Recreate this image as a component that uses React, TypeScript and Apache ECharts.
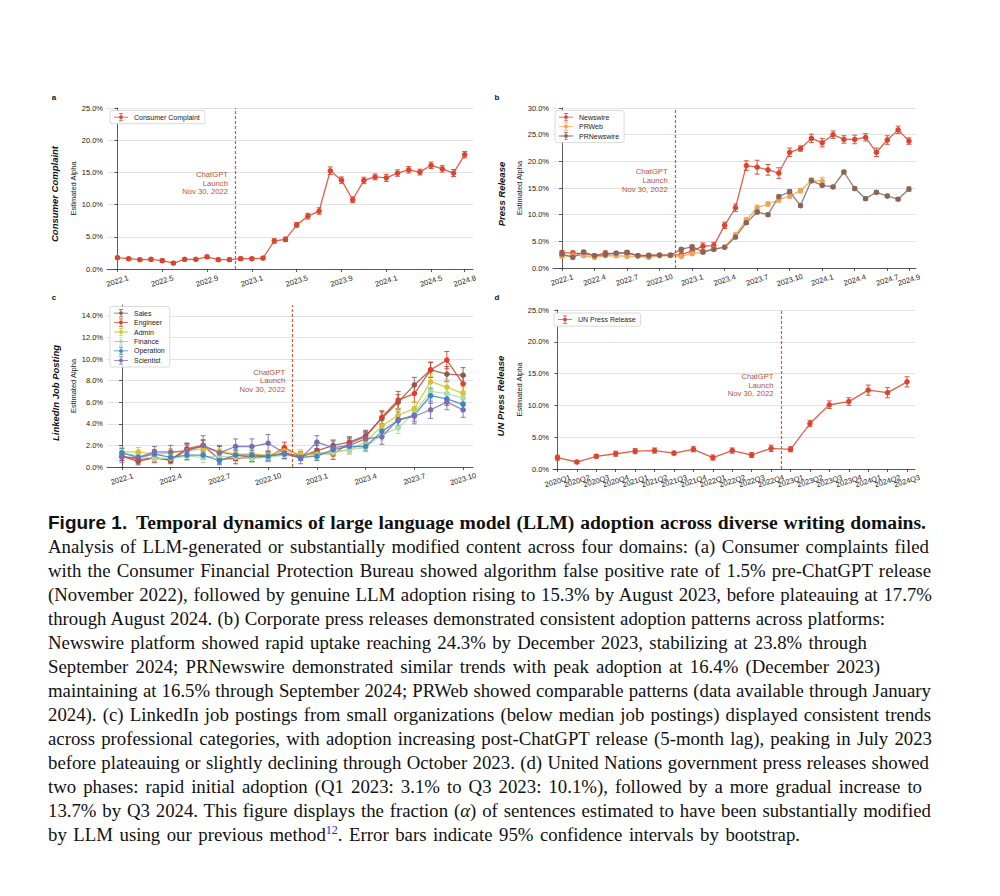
import React, { useEffect, useRef } from "react";
import * as echarts from "echarts";

// ---------- tick labels / categories ----------
const monthsA = [
  "2022.1","2022.2","2022.3","2022.4","2022.5","2022.6","2022.7","2022.8","2022.9","2022.10","2022.11","2022.12",
  "2023.1","2023.2","2023.3","2023.4","2023.5","2023.6","2023.7","2023.8","2023.9","2023.10","2023.11","2023.12",
  "2024.1","2024.2","2024.3","2024.4","2024.5","2024.6","2024.7","2024.8",
];
const monthsB = [
  "2022.1","2022.2","2022.3","2022.4","2022.5","2022.6","2022.7","2022.8","2022.9","2022.10","2022.11","2022.12",
  "2023.1","2023.2","2023.3","2023.4","2023.5","2023.6","2023.7","2023.8","2023.9","2023.10","2023.11","2023.12",
  "2024.1","2024.2","2024.3","2024.4","2024.5","2024.6","2024.7","2024.8","2024.9",
];
const monthsC = [
  "2022.1","2022.2","2022.3","2022.4","2022.5","2022.6","2022.7","2022.8","2022.9","2022.10","2022.11","2022.12",
  "2023.1","2023.2","2023.3","2023.4","2023.5","2023.6","2023.7","2023.8","2023.9","2023.10",
];
const quartersD = [
  "2020Q1","2020Q2","2020Q3","2020Q4","2021Q1","2021Q2","2021Q3","2021Q4","2022Q1","2022Q2",
  "2022Q3","2022Q4","2023Q1","2023Q2","2023Q3","2023Q4","2024Q1","2024Q2","2024Q3",
];
const ticksA = [0, 4, 8, 12, 16, 20, 24, 28, 31];
const ticksB = [0, 3, 6, 9, 12, 15, 18, 21, 24, 27, 30, 32];
const ticksC = [0, 3, 6, 9, 12, 15, 18, 21];
const ticksD = [0, 1, 2, 3, 4, 5, 6, 7, 8, 9, 10, 11, 12, 13, 14, 15, 16, 17, 18];

// ---------- (a) consumer complaints ----------
const consumerValues = [1.76,1.6,1.45,1.5,1.3,0.93,1.5,1.5,1.9,1.45,1.45,1.6,1.6,1.7,4.35,4.6,6.85,8.2,9.0,15.25,13.8,10.75,13.75,14.3,14.15,14.9,15.4,15.05,16.1,15.55,14.9,17.75];
const consumerErr = [0.2,0.2,0.2,0.25,0.25,0.2,0.25,0.2,0.25,0.25,0.25,0.25,0.2,0.25,0.35,0.35,0.35,0.45,0.5,0.6,0.5,0.45,0.5,0.45,0.55,0.5,0.5,0.45,0.5,0.5,0.55,0.5];

// ---------- (b) press releases ----------
const newswireValues = [2.9,2.8,2.7,2.3,2.8,2.7,2.9,2.3,2.4,2.4,2.4,2.5,3.2,4.1,4.2,8.0,11.3,19.2,18.9,18.4,17.8,21.7,22.4,24.3,23.5,25.0,24.1,24.1,24.5,21.7,24.0,25.9,23.8];
const newswireErr = [0.4,0.4,0.3,0.3,0.4,0.3,0.4,0.3,0.3,0.2,0.2,0.5,0.5,0.6,0.6,0.6,0.7,0.9,1.3,1.0,1.0,0.8,0.5,0.8,0.8,0.7,0.7,0.8,0.7,0.8,0.8,0.7,0.6];
const prwebValues = [2.2,2.4,2.3,2.0,2.3,2.3,2.2,2.2,2.0,2.3,2.3,2.2,2.7,3.0,3.6,3.9,6.2,9.0,11.3,12.0,12.8,13.5,14.5,16.4,16.3,null,null,null,null,null,null,null,null];
const prwebErr = [0.3,0.3,0.3,0.3,0.3,0.3,0.3,0.2,0.3,0.2,0.2,0.3,0.3,0.3,0.3,0.3,0.4,0.4,0.5,0.4,0.5,0.5,0.4,0.5,0.7,0,0,0,0,0,0,0,0];
const prnewswireValues = [2.6,2.0,3.0,2.3,2.5,2.8,2.9,2.3,2.3,2.4,2.4,3.5,4.0,3.0,3.5,3.9,5.8,8.5,10.5,10.0,13.4,14.3,11.7,16.4,15.5,15.2,18.0,14.9,13.0,14.2,13.5,12.9,14.8];
const prnewswireErr = [0.3,0.3,0.3,0.2,0.2,0.2,0.3,0.2,0.2,0.2,0.2,0.3,0.3,0.3,0.3,0.2,0.3,0.3,0.3,0.3,0.3,0.4,0.3,0.3,0.3,0.3,0.3,0.3,0.3,0.3,0.3,0.3,0.4];

// ---------- (c) LinkedIn job postings ----------
const salesValues = [1.0,0.5,0.9,0.6,1.6,1.9,1.4,1.1,0.9,1.0,1.3,1.0,1.5,2.0,2.3,2.9,4.5,6.0,7.6,9.0,8.6,8.5];
const salesErr = [0.4,0.3,0.4,0.3,0.6,0.6,0.5,0.5,0.4,0.5,0.5,0.4,0.5,0.5,0.5,0.5,0.6,0.7,0.7,0.7,0.7,0.7];
const engineerValues = [1.0,0.7,0.8,0.7,1.7,2.0,0.7,0.8,0.9,0.9,1.8,1.0,1.3,1.2,2.2,2.8,4.6,6.2,6.8,9.0,9.9,7.7];
const engineerErr = [0.4,0.3,0.4,0.3,0.5,0.5,0.4,0.5,0.4,0.4,0.5,0.4,0.4,0.5,0.5,0.5,0.6,0.8,0.8,0.7,0.8,0.7];
const adminValues = [1.4,1.4,1.2,1.3,1.5,1.7,1.5,1.2,1.2,1.1,1.5,1.2,1.2,1.4,1.6,2.3,3.8,4.8,5.4,7.9,7.4,6.8];
const adminErr = [0.4,0.4,0.4,0.4,0.5,0.5,0.5,0.4,0.4,0.4,0.4,0.4,0.4,0.4,0.4,0.4,0.5,0.6,0.6,0.7,0.7,0.6];
const financeValues = [1.3,1.0,0.8,0.8,1.0,0.9,1.0,0.9,0.8,0.9,1.1,0.9,1.1,1.3,1.6,1.8,3.0,3.6,5.0,7.0,6.8,6.4];
const financeErr = [0.4,0.3,0.3,0.3,0.4,0.5,0.4,0.4,0.4,0.4,0.4,0.3,0.4,0.4,0.4,0.4,0.5,0.5,0.6,0.7,0.6,0.6];
const operationValues = [1.3,0.9,1.2,0.9,1.1,1.1,0.6,1.1,1.1,1.0,1.2,0.9,1.0,1.6,1.9,1.9,3.3,4.3,4.8,6.6,6.3,5.8];
const operationErr = [0.4,0.3,0.4,0.3,0.4,0.4,0.4,0.4,0.4,0.4,0.4,0.3,0.4,0.4,0.4,0.4,0.5,0.5,0.6,0.7,0.6,0.6];
const scientistValues = [0.9,0.9,1.4,1.4,1.5,2.0,1.3,1.9,1.9,2.2,1.3,0.8,2.3,1.8,2.0,2.6,2.8,4.4,4.7,5.3,6.0,5.3];
const scientistErr = [0.5,0.4,0.5,0.6,0.6,0.9,0.7,0.7,0.7,0.8,0.5,0.5,0.6,0.6,0.6,0.6,0.7,0.7,0.7,0.8,0.7,0.7];

// ---------- (d) UN press releases ----------
const unValues = [1.78,1.1,2.0,2.4,2.8,2.9,2.5,3.1,1.8,2.9,2.2,3.25,3.1,7.15,10.1,10.6,12.4,12.0,13.7];
const unErr = [0.4,0.2,0.3,0.4,0.4,0.4,0.3,0.4,0.4,0.4,0.4,0.5,0.4,0.5,0.6,0.6,0.8,0.8,0.8];

const FONT = '"Liberation Sans", Arial, Helvetica, sans-serif';
const ANNOT = "#b0563c";
const LAUNCH_LINE = "#d05a3e";
const LEGEND_ICON =
  "path://M0,7.3H24V8.7H0Z M11.3,1H12.7V15H11.3Z M8.5,1H15.5V2.2H8.5Z M8.5,13.8H15.5V15H8.5Z M15.3,8A3.3,3.3,0,1,1,8.7,8A3.3,3.3,0,1,1,15.3,8Z";
const LABEL_ROT = (17 * Math.PI) / 180;

type SDef = { name: string; color: string; values: (number | null)[]; errs: number[] };

function errRender(color: string) {
  return (params: any, api: any) => {
    const x = api.value(0);
    const p1 = api.coord([x, api.value(1)]);
    const p2 = api.coord([x, api.value(2)]);
    const cap = 2.5;
    const style = { stroke: color, lineWidth: 1, opacity: 0.9 };
    return {
      type: "group",
      children: [
        { type: "line", shape: { x1: p1[0], y1: p1[1], x2: p2[0], y2: p2[1] }, style },
        { type: "line", shape: { x1: p1[0] - cap, y1: p1[1], x2: p1[0] + cap, y2: p1[1] }, style },
        { type: "line", shape: { x1: p2[0] - cap, y1: p2[1], x2: p2[0] + cap, y2: p2[1] }, style },
      ],
    };
  };
}

function buildPanel(cfg: {
  gi: number;
  rect: { left: number; top: number; width: number; height: number };
  labels: string[];
  ticks: number[];
  xMin: number;
  xMax: number;
  yMax: number;
  yInterval: number;
  series: SDef[];
  launchX: number;
  launchY: number;
  legendPos: { left: number; top: number };
}) {
  const { gi } = cfg;
  const grid = { ...cfg.rect, containLabel: false };
  const axisLineStyle = { color: "#333", width: 0.8 };
  const xAxis = {
    gridIndex: gi,
    type: "value",
    min: cfg.xMin,
    max: cfg.xMax,
    axisLine: { show: true, onZero: false, lineStyle: axisLineStyle },
    axisTick: { show: true, customValues: cfg.ticks, length: 3, lineStyle: axisLineStyle },
    axisLabel: { show: false },
    splitLine: { show: false },
  };
  const exact = cfg.yMax % cfg.yInterval === 0;
  const yAxis = {
    gridIndex: gi,
    type: "value",
    min: 0,
    max: cfg.yMax,
    interval: cfg.yInterval,
    name: "Estimated Alpha",
    nameLocation: "middle",
    nameGap: 25,
    nameTextStyle: { fontSize: 7.5, color: "#222", fontFamily: FONT },
    axisLine: { show: true, lineStyle: axisLineStyle },
    axisTick: { show: true, length: 3, lineStyle: axisLineStyle },
    axisLabel: {
      fontSize: 7.5,
      color: "#1a1a1a",
      margin: 4,
      fontFamily: FONT,
      showMaxLabel: exact,
      formatter: (v: number) => v.toFixed(1) + "%",
    },
    splitLine: { show: true, showMaxLine: exact, lineStyle: { color: "#dcdcdc", width: 0.8 } },
  };
  const series: any[] = [];
  // x tick labels, placed through the x scale (rotated, centred under each tick)
  series.push({
    type: "custom",
    name: "xlabels" + gi,
    xAxisIndex: gi,
    yAxisIndex: gi,
    silent: true,
    clip: false,
    z: 1,
    encode: { x: 0, y: 1 },
    data: cfg.ticks.map((t) => [t, 0]),
    renderItem: (params: any, api: any) => {
      const p = api.coord([api.value(0), 0]);
      return {
        type: "text",
        x: p[0],
        y: p[1] + 12,
        rotation: LABEL_ROT,
        style: {
          text: cfg.labels[cfg.ticks[params.dataIndex]],
          fontSize: 7.5,
          fontFamily: FONT,
          fill: "#1a1a1a",
          align: "center",
          verticalAlign: "middle",
        },
      };
    },
  });
  cfg.series.forEach((s, k) => {
    const pts: any[] = [];
    const errs: any[] = [];
    s.values.forEach((v, i) => {
      if (v === null) return;
      pts.push([i, v]);
      errs.push([i, v - s.errs[i], v + s.errs[i]]);
    });
    series.push({
      type: "custom",
      name: s.name + " CI",
      xAxisIndex: gi,
      yAxisIndex: gi,
      silent: true,
      z: 2,
      renderItem: errRender(s.color),
      encode: { x: 0, y: [1, 2] },
      data: errs,
    });
    const line: any = {
      type: "line",
      name: s.name,
      xAxisIndex: gi,
      yAxisIndex: gi,
      data: pts,
      symbol: "circle",
      symbolSize: 5.5,
      showSymbol: true,
      lineStyle: { color: s.color, width: 1.3, opacity: 0.85 },
      itemStyle: { color: s.color },
      emphasis: { disabled: true },
      z: 3,
    };
    if (k === 0) {
      line.markLine = {
        silent: true,
        symbol: "none",
        label: { show: false },
        itemStyle: { color: LAUNCH_LINE },
        lineStyle: { type: [3, 2], color: LAUNCH_LINE, width: 1.2, opacity: 1 },
        data: [{ xAxis: cfg.launchX, lineStyle: { type: [3, 2], color: LAUNCH_LINE, width: 1.2 } }],
      };
      line.markPoint = {
        silent: true,
        symbol: "circle",
        symbolSize: 1,
        itemStyle: { color: "rgba(0,0,0,0)" },
        label: {
          show: true,
          position: "left",
          distance: 7,
          formatter: "ChatGPT\nLaunch\nNov 30, 2022",
          align: "right",
          color: ANNOT,
          fontSize: 7.7,
          lineHeight: 8.6,
          fontFamily: FONT,
        },
        data: [{ coord: [cfg.launchX, cfg.launchY] }],
      };
    }
    series.push(line);
  });
  const legend = {
    data: cfg.series.map((s) => ({ name: s.name, icon: LEGEND_ICON })),
    left: cfg.legendPos.left,
    top: cfg.legendPos.top,
    orient: "vertical",
    itemWidth: 14,
    itemHeight: 9,
    itemGap: 1.3,
    padding: [2.5, 5, 2.5, 4],
    borderColor: "#d0d0d0",
    borderWidth: 0.8,
    borderRadius: 2,
    backgroundColor: "#fff",
    selectedMode: false,
    textStyle: { fontSize: 7, color: "#222", fontFamily: FONT, padding: [0, 0, 0, 1] },
  };
  return { grid, xAxis, yAxis, series, legend };
}

function sideTitle(text: string, x: number, y: number) {
  return {
    type: "text",
    x,
    y,
    rotation: Math.PI / 2,
    style: {
      text,
      fontSize: 9.5,
      fontWeight: "bold",
      fontStyle: "italic",
      fontFamily: FONT,
      fill: "#111",
      align: "center",
      verticalAlign: "middle",
    },
  };
}
function letter(text: string, x: number, y: number) {
  return {
    type: "text",
    x,
    y,
    style: { text, fontSize: 8, fontWeight: "bold", fontFamily: FONT, fill: "#111", align: "center", verticalAlign: "middle" },
  };
}

const RED = "#d9452e";

function Chart() {
  const ref = useRef<HTMLDivElement>(null);
  useEffect(() => {
    if (!ref.current) return;
    const chart = echarts.init(ref.current, undefined, { renderer: "svg" });
    const panels = [
      buildPanel({
        gi: 0,
        rect: { left: 107, top: 108, width: 366, height: 161 },
        labels: monthsA,
        ticks: ticksA,
        xMin: -0.93,
        xMax: 31.74,
        yMax: 25,
        yInterval: 5,
        series: [{ name: "Consumer Complaint", color: RED, values: consumerValues, errs: consumerErr }],
        launchX: 10.54,
        launchY: 13.3,
        legendPos: { left: 110, top: 110.5 },
      }),
      buildPanel({
        gi: 1,
        rect: { left: 553, top: 108, width: 363, height: 160 },
        labels: monthsB,
        ticks: ticksB,
        xMin: -0.83,
        xMax: 32.65,
        yMax: 30,
        yInterval: 5,
        series: [
          { name: "Newswire", color: RED, values: newswireValues, errs: newswireErr },
          { name: "PRWeb", color: "#f3a158", values: prwebValues, errs: prwebErr },
          { name: "PRNewswire", color: "#86655a", values: prnewswireValues, errs: prnewswireErr },
        ],
        launchX: 10.44,
        launchY: 16.4,
        legendPos: { left: 555, top: 110.5 },
      }),
      buildPanel({
        gi: 2,
        rect: { left: 107, top: 305, width: 366, height: 162 },
        labels: monthsC,
        ticks: ticksC,
        xMin: -0.92,
        xMax: 21.61,
        yMax: 15,
        yInterval: 2,
        series: [
          { name: "Sales", color: "#8c5a4c", values: salesValues, errs: salesErr },
          { name: "Engineer", color: "#dc3f2a", values: engineerValues, errs: engineerErr },
          { name: "Admin", color: "#d6c42c", values: adminValues, errs: adminErr },
          { name: "Finance", color: "#a9dca4", values: financeValues, errs: financeErr },
          { name: "Operation", color: "#3a86c2", values: operationValues, errs: operationErr },
          { name: "Scientist", color: "#7c6cb2", values: scientistValues, errs: scientistErr },
        ],
        launchX: 10.51,
        launchY: 8.0,
        legendPos: { left: 110, top: 306.5 },
      }),
      buildPanel({
        gi: 3,
        rect: { left: 553, top: 310, width: 362, height: 159 },
        labels: quartersD,
        ticks: ticksD,
        xMin: -0.23,
        xMax: 18.41,
        yMax: 25,
        yInterval: 5,
        series: [{ name: "UN Press Release", color: RED, values: unValues, errs: unErr }],
        launchX: 11.51,
        launchY: 13.2,
        legendPos: { left: 554, top: 313 },
      }),
    ];
    chart.setOption({
      animation: false,
      backgroundColor: "#fff",
      textStyle: { fontFamily: FONT },
      grid: panels.map((p) => p.grid),
      xAxis: panels.map((p) => p.xAxis),
      yAxis: panels.map((p) => p.yAxis),
      legend: panels.map((p) => p.legend),
      series: panels.flatMap((p) => p.series),
      graphic: [
        letter("a", 54, 97),
        letter("b", 497, 97),
        letter("c", 54, 297),
        letter("d", 497, 297),
        sideTitle("Consumer Complaint", 54, 194),
        sideTitle("Press Release", 501, 194),
        sideTitle("LinkedIn Job Posting", 55, 393),
        sideTitle("UN Press Release", 500, 396),
      ],
    });
    return () => chart.dispose();
  }, []);
  return <div ref={ref} style={{ width: 1000, height: 505 }} />;
}

const CAP_LEFT = 48;
function Line({ end, children }: { end: number; children: React.ReactNode }) {
  return (
    <div style={{ width: end - CAP_LEFT, textAlign: "justify", textAlignLast: "justify" as any, whiteSpace: "nowrap" }}>
      {children}
    </div>
  );
}

export default function App() {
  return (
    <div style={{ position: "absolute", left: 0, top: 0, width: 1000, height: 896, background: "#fff" }}>
      <Chart />
      <div
        style={{
          position: "absolute",
          left: CAP_LEFT,
          top: 511,
          fontFamily: '"Liberation Serif", "Times New Roman", serif',
          fontSize: 18.8,
          lineHeight: "24px",
          color: "#111",
        }}
      >
        <div style={{ whiteSpace: "nowrap", display: "flex", alignItems: "baseline" }}>
          <span style={{ fontFamily: FONT, fontWeight: "bold", fontSize: 19, width: 88, display: "inline-block" }}>Figure 1.</span>
          <span
            style={{
              fontWeight: "bold",
              fontSize: 19.6,
              display: "inline-block",
              width: 790,
              textAlign: "justify",
              textAlignLast: "justify" as any,
            }}
          >
            Temporal dynamics of large language model (LLM) adoption across diverse writing domains.
          </span>
        </div>
        <Line end={929}>Analysis of LLM-generated or substantially modified content across four domains: (a) Consumer complaints filed</Line>
        <Line end={931}>with the Consumer Financial Protection Bureau showed algorithm false positive rate of 1.5% pre-ChatGPT release</Line>
        <Line end={932}>(November 2022), followed by genuine LLM adoption rising to 15.3% by August 2023, before plateauing at 17.7%</Line>
        <Line end={885}>through August 2024. (b) Corporate press releases demonstrated consistent adoption patterns across platforms:</Line>
        <Line end={867}>Newswire platform showed rapid uptake reaching 24.3% by December 2023, stabilizing at 23.8% through</Line>
        <Line end={880}>September 2024; PRNewswire demonstrated similar trends with peak adoption at 16.4% (December 2023)</Line>
        <Line end={931}>maintaining at 16.5% through September 2024; PRWeb showed comparable patterns (data available through January</Line>
        <Line end={931}>2024). (c) LinkedIn job postings from small organizations (below median job postings) displayed consistent trends</Line>
        <Line end={932}>across professional categories, with adoption increasing post-ChatGPT release (5-month lag), peaking in July 2023</Line>
        <Line end={929}>before plateauing or slightly declining through October 2023. (d) United Nations government press releases showed</Line>
        <Line end={922}>two phases: rapid initial adoption (Q1 2023: 3.1% to Q3 2023: 10.1%), followed by a more gradual increase to</Line>
        <Line end={931}>
          13.7% by Q3 2024. This figure displays the fraction (<i>α</i>) of sentences estimated to have been substantially modified
        </Line>
        <Line end={800}>
          by LLM using our previous method<sup style={{ color: "#1a1aff", fontSize: 12, lineHeight: 0 }}>12</sup>. Error bars
          indicate 95% confidence intervals by bootstrap.
        </Line>
      </div>
    </div>
  );
}
